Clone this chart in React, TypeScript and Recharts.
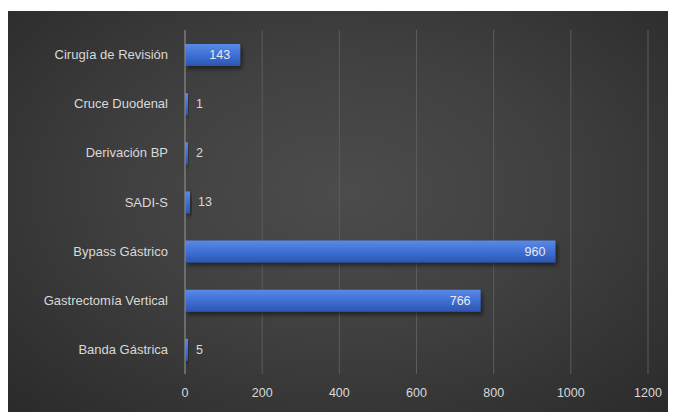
import { BarChart, Bar, XAxis, YAxis, CartesianGrid, LabelList } from 'recharts';

const categories = [
  'Cirugía de Revisión',
  'Cruce Duodenal',
  'Derivación BP',
  'SADI-S',
  'Bypass Gástrico',
  'Gastrectomía Vertical',
  'Banda Gástrica',
];
const values = [143, 1, 2, 13, 960, 766, 5];
const xTicks = [0, 200, 400, 600, 800, 1000, 1200];

const data = categories.map((name, i) => ({ name, value: values[i] }));

const textColor = '#d9d9d9';
const font = "'Liberation Sans', Arial, sans-serif";

// label inside the bar end for long bars, right of it for short ones
const renderLabel = (props: any) => {
  const { x, y, width, height, value } = props;
  const inside = width > 40;
  return (
    <text
      x={inside ? x + width - 10 : x + width + 8}
      y={y + height / 2}
      dy={4}
      fill={inside ? '#eaeaea' : textColor}
      fontSize={12.5}
      fontFamily={font}
      textAnchor={inside ? 'end' : 'start'}
    >
      {value}
    </text>
  );
};

const App = () => {
  return (
    <div
      style={{
        marginTop: 3,
        width: 668,
        height: 401,
        background: 'radial-gradient(ellipse at 50% 45%, #4c4c4c 0%, #404040 45%, #2a2a2a 100%)',
      }}
    >
      <BarChart
        width={668}
        height={401}
        data={data}
        layout="vertical"
        margin={{ top: 19, right: 28, bottom: 8, left: 0 }}
      >
        <defs>
          <linearGradient id="barFill" x1="0" y1="0" x2="0" y2="1">
            <stop offset="0%" stopColor="#5a8ae6" />
            <stop offset="50%" stopColor="#3f6fd6" />
            <stop offset="100%" stopColor="#2c56b0" />
          </linearGradient>
          <filter id="shadow" x="-30%" y="-30%" width="160%" height="170%">
            <feDropShadow dx="2" dy="3" stdDeviation="2" floodColor="#000" floodOpacity="0.5" />
          </filter>
        </defs>
        <CartesianGrid horizontal={false} stroke="#5c5c5c" />
        <XAxis
          type="number"
          domain={[0, 1200]}
          ticks={xTicks}
          axisLine={false}
          tickLine={false}
          height={30}
          tick={{ fill: textColor, fontSize: 12.5, fontFamily: font }}
          tickMargin={8}
        />
        <YAxis
          type="category"
          dataKey="name"
          width={177}
          axisLine={{ stroke: '#8c8c8c' }}
          tickLine={false}
          tickMargin={11}
          tick={{ fill: textColor, fontSize: 13, fontFamily: font }}
        />
        <Bar
          dataKey="value"
          fill="url(#barFill)"
          barSize={22}
          minPointSize={3}
          filter="url(#shadow)"
          isAnimationActive={false}
        >
          <LabelList dataKey="value" content={renderLabel} />
        </Bar>
      </BarChart>
    </div>
  );
};

export default App;
